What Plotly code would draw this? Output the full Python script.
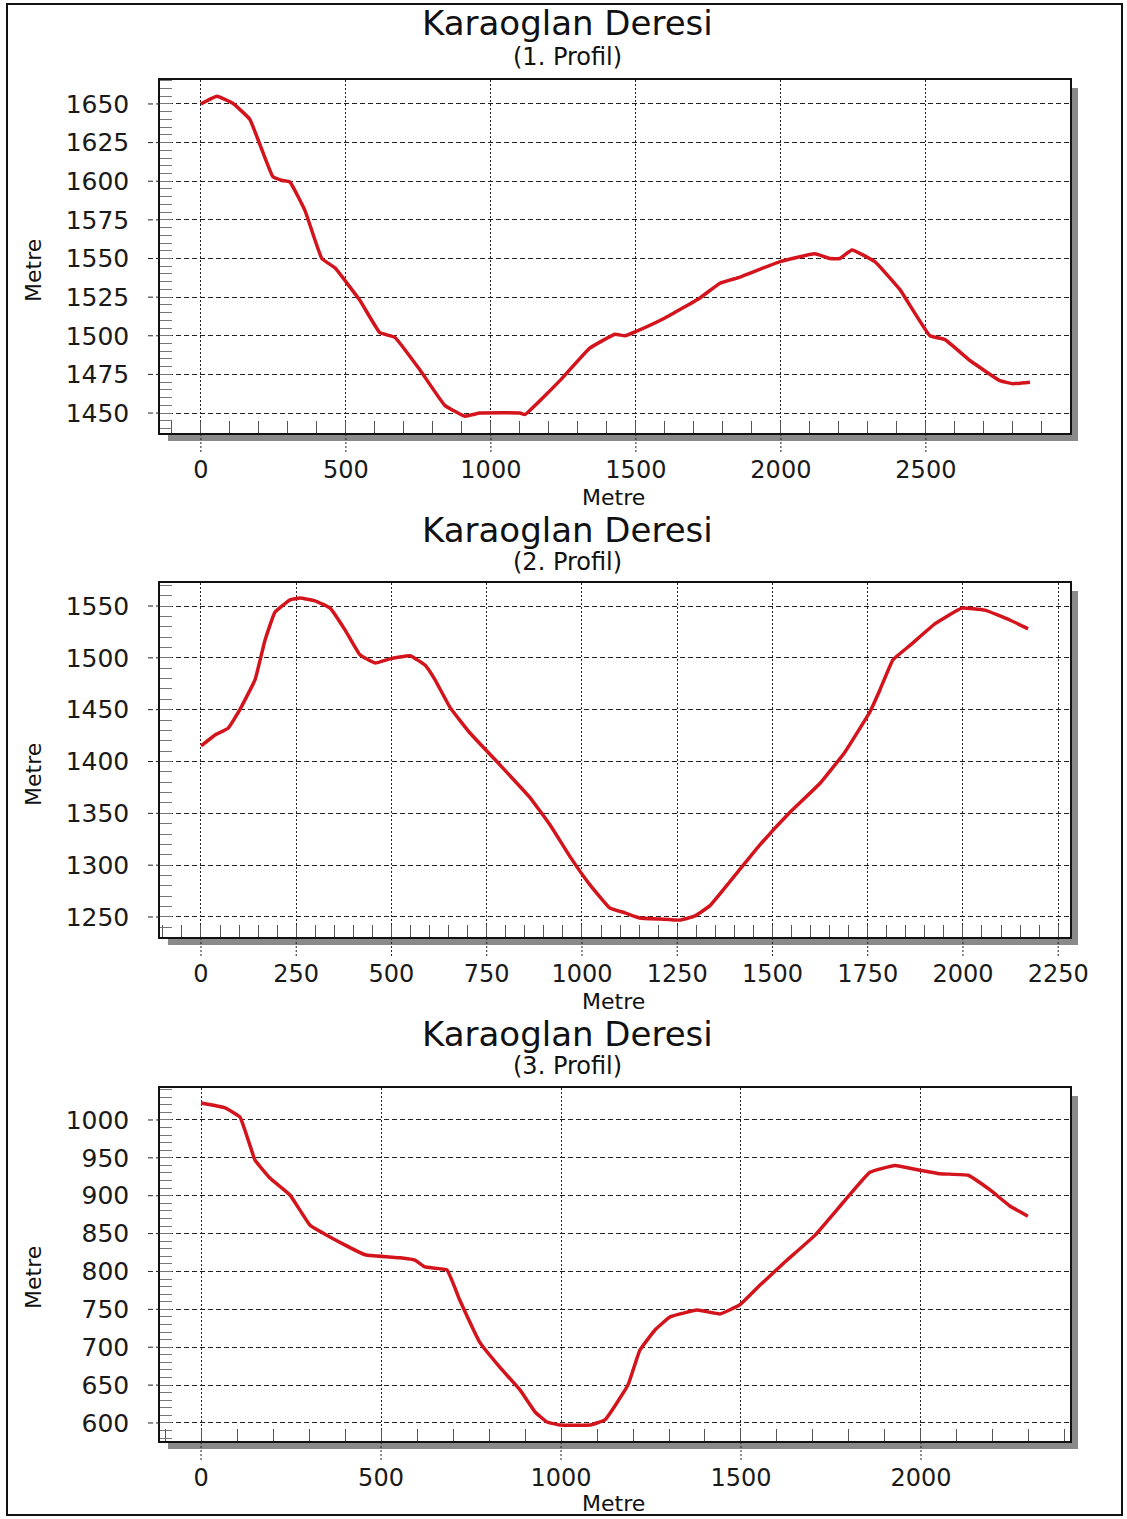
import plotly.graph_objects as go

W, H = 1127, 1519

# ---------------- data ----------------
p1_x = [0, 55, 110, 169, 248, 280, 307, 359, 417, 462, 548, 617, 669, 755, 841, 910, 962,
        1100, 1117, 1238, 1341, 1428, 1462, 1497, 1600, 1721, 1790, 1859, 1997, 2117, 2169,
        2203, 2245, 2324, 2410, 2514, 2566, 2652, 2755, 2800, 2859]
p1_y = [1650, 1655, 1650.5, 1640, 1603, 1600.5, 1599.5, 1581, 1550, 1544, 1523, 1502, 1499,
        1478, 1455, 1448, 1450, 1450, 1449, 1471, 1492, 1501, 1500, 1502.5, 1511.5, 1524.5,
        1534, 1538, 1548, 1553, 1550, 1550, 1555.5, 1548, 1530, 1500, 1497.5, 1484, 1471,
        1469, 1470]

p2_x = [0, 37, 71, 102, 142, 168, 194, 234, 260, 299, 339, 378, 417, 457, 496, 549, 588, 614,
        654, 706, 785, 864, 916, 969, 1021, 1073, 1113, 1152, 1205, 1257, 1297, 1336, 1388,
        1467, 1546, 1625, 1690, 1756, 1782, 1816, 1861, 1927, 1997, 2058, 2123, 2171]
p2_y = [1415, 1425.6, 1432, 1450, 1479, 1517, 1544, 1556, 1557.7, 1555, 1548, 1527, 1503,
        1495, 1499, 1502, 1493, 1479, 1452, 1427.5, 1396.6, 1365, 1339, 1308, 1281, 1258.7,
        1254, 1249, 1248, 1247, 1251, 1261, 1284, 1319.5, 1351, 1379, 1409, 1448, 1469, 1498,
        1512, 1533, 1548, 1546, 1536.5, 1528]

p3_x = [0, 67, 108, 131, 150, 192, 247, 303, 358, 456, 553, 594, 622, 683, 719, 775, 831, 886,
        928, 961, 997, 1081, 1122, 1186, 1219, 1261, 1303, 1378, 1442, 1497, 1553, 1622, 1706,
        1789, 1858, 1928, 1983, 2053, 2131, 2192, 2247, 2297]
p3_y = [1022.4, 1016, 1004, 973.6, 947, 923, 901, 861, 845.6, 822, 818, 815, 806, 802, 762,
        706, 673, 643.6, 614.5, 601.3, 597.4, 597.4, 604, 650, 696, 722.8, 740, 749, 744, 756,
        782, 812.5, 848, 894, 931, 940, 935, 929, 927, 907.6, 886.5, 873]

titles = ["Karaoglan Deresi", "Karaoglan Deresi", "Karaoglan Deresi"]
subtitles = ["(1. Profil)", "(2. Profil)", "(3. Profil)"]
x_title = "Metre"
y_title = "Metre"

x_ticks = [[0, 500, 1000, 1500, 2000, 2500],
           [0, 250, 500, 750, 1000, 1250, 1500, 1750, 2000, 2250],
           [0, 500, 1000, 1500, 2000]]
y_ticks = [[1450, 1475, 1500, 1525, 1550, 1575, 1600, 1625, 1650],
           [1250, 1300, 1350, 1400, 1450, 1500, 1550],
           [600, 650, 700, 750, 800, 850, 900, 950, 1000]]
x_minor = [100, 50, 100]
y_minor = [5, 10, 10]
x_ranges = [[-141, 2997], [-107.6, 2281], [-114, 2414]]
y_ranges = [[1437.1, 1665.5], [1230.7, 1572.2], [576.2, 1042.2]]

series_x = [p1_x, p2_x, p3_x]
series_y = [p1_y, p2_y, p3_y]

# ---------------- layout geometry (pixels) ----------------
plot_left, plot_right = 160, 1070
plot_tops = [80, 583, 1088]
plot_bottoms = [433, 937, 1441]
title_y = [23, 530, 1034]
sub_y = [57, 562, 1066]
xt_y = [497, 1001, 1503]
yt_y = [271, 775, 1278]
FONT = "DejaVu Sans"
RED = "#d4141c"


def px(x):
    return x / W


def py(y):
    return 1 - y / H


fig = go.Figure()
shapes = []
annotations = []
layout_axes = {}

for i in range(3):
    n = "" if i == 0 else str(i + 1)
    xa, ya = "x" + n, "y" + n
    fig.add_trace(go.Scatter(
        x=series_x[i], y=series_y[i], mode="lines",
        line=dict(color=RED, width=3.5, shape="spline", smoothing=0.3),
        xaxis=xa, yaxis=ya, showlegend=False, hoverinfo="x+y"))

    top, bot = plot_tops[i], plot_bottoms[i]
    shapes.append(dict(type="rect", xref="paper", yref="paper",
                       x0=px(plot_left + 8), x1=px(plot_right + 8),
                       y0=py(bot + 8), y1=py(top + 8),
                       fillcolor="#8a8a8a", line=dict(width=0), layer="below"))
    shapes.append(dict(type="rect", xref="paper", yref="paper",
                       x0=px(plot_left), x1=px(plot_right),
                       y0=py(bot), y1=py(top),
                       fillcolor="white", line=dict(width=0), layer="below"))
    for yv in y_ticks[i]:
        shapes.append(dict(type="line", xref=xa + " domain", yref=ya,
                           x0=-12 / (plot_right - plot_left), x1=0, y0=yv, y1=yv,
                           line=dict(color="#222", width=1, dash="5px,3px")))
    for xv in x_ticks[i]:
        shapes.append(dict(type="line", xref=xa, yref=ya + " domain",
                           x0=xv, x1=xv, y0=-19 / (bot - top), y1=0,
                           line=dict(color="#222", width=1, dash="2px,2px")))

    layout_axes["xaxis" + n] = dict(
        domain=[px(plot_left), px(plot_right)], anchor=ya, range=x_ranges[i],
        automargin=False,
        tickvals=x_ticks[i], showgrid=True, gridcolor="#222", griddash="2px,2px",
        gridwidth=1, zeroline=False, showline=True, linecolor="#111", linewidth=2,
        mirror=True, ticks="", ticklabelstandoff=14,
        tickfont=dict(family=FONT, size=24, color="#1a1a1a"),
        minor=dict(ticks="inside", ticklen=12, dtick=x_minor[i], tickcolor="#555",
                   tickwidth=1, showgrid=False, tick0=0),
        fixedrange=True)
    layout_axes["yaxis" + n] = dict(
        domain=[py(bot), py(top)], anchor=xa, range=y_ranges[i],
        automargin=False,
        tickvals=y_ticks[i], showgrid=True, gridcolor="#222", griddash="5px,3px",
        gridwidth=1, zeroline=False, showline=True, linecolor="#111", linewidth=1.5,
        mirror=True, ticks="", ticklabelstandoff=24,
        tickfont=dict(family=FONT, size=25, color="#1a1a1a"),
        minor=dict(ticks="inside", ticklen=12, dtick=y_minor[i], tickcolor="#777",
                   tickwidth=1, showgrid=False, tick0=0),
        fixedrange=True)

    annotations.append(dict(text=titles[i], xref="paper", yref="paper",
                            x=px(567), y=py(title_y[i]), showarrow=False,
                            xanchor="center", yanchor="middle",
                            font=dict(family=FONT, size=34, color="#111")))
    annotations.append(dict(text=subtitles[i], xref="paper", yref="paper",
                            x=px(567), y=py(sub_y[i]), showarrow=False,
                            xanchor="center", yanchor="middle",
                            font=dict(family=FONT, size=24, color="#111")))
    annotations.append(dict(text=x_title, xref="paper", yref="paper",
                            x=px(613), y=py(xt_y[i]), showarrow=False,
                            xanchor="center", yanchor="middle",
                            font=dict(family=FONT, size=22, color="#111")))
    annotations.append(dict(text=y_title, xref="paper", yref="paper",
                            x=px(33), y=py(yt_y[i]), showarrow=False,
                            xanchor="center", yanchor="middle", textangle=-90,
                            font=dict(family=FONT, size=22, color="#111")))

shapes.append(dict(type="rect", xref="paper", yref="paper",
                   x0=px(7), x1=px(1122), y0=py(1515), y1=py(4),
                   line=dict(color="#111", width=2), fillcolor="rgba(0,0,0,0)"))

fig.update_layout(
    width=W, height=H, autosize=False,
    margin=dict(l=0, r=0, t=0, b=0, autoexpand=False),
    paper_bgcolor="white", plot_bgcolor="rgba(0,0,0,0)",
    shapes=shapes, annotations=annotations, showlegend=False,
    **layout_axes)

fig.write_html(
    "out.html", config={"displayModeBar": False, "responsive": False},
    post_script=("document.documentElement.style.overflow='hidden';"
                 "document.body.style.margin='0';document.body.style.padding='0';"
                 "document.body.style.overflow='hidden';"))
